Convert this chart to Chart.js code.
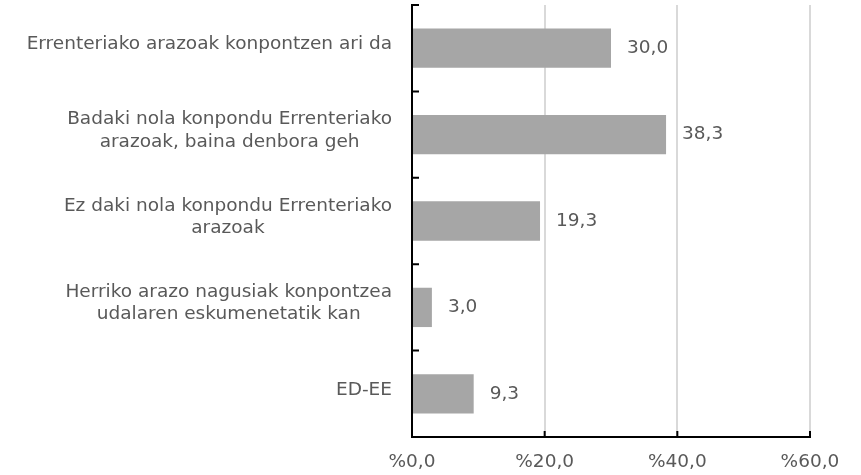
<!DOCTYPE html>
<html>
<head>
<meta charset="utf-8">
<script src="https://cdn.jsdelivr.net/npm/chart.js@4.4.0/dist/chart.umd.min.js"></script>
<style>
  html, body { margin: 0; padding: 0; background: #fff; }
  #wrap { width: 861px; height: 475px; position: relative; }
</style>
</head>
<body>
<div id="wrap"><canvas id="chart"></canvas></div>
<script>
const categories = [
  ['Errenteriako arazoak konpontzen ari da'],
  ['Badaki nola konpondu Errenteriako', 'arazoak, baina denbora geh'],
  ['Ez daki nola konpondu Errenteriako', 'arazoak'],
  ['Herriko arazo nagusiak konpontzea', 'udalaren eskumenetatik kan'],
  ['ED-EE']
];
const values = [30.0, 38.3, 19.3, 3.0, 9.3];
const xTicks = [0, 20, 40, 60];

const FONT = "'DejaVu Sans', Verdana, sans-serif";
const FONT_SIZE = 18.5;
const TEXT = '#595959';

function fmt(v) {
  return v.toFixed(1).replace('.', ',');
}

// inward tick marks, category labels and value labels
const decor = {
  id: 'decor',
  afterDraw(chart) {
    const { ctx, scales: { x, y } } = chart;
    ctx.save();

    ctx.strokeStyle = '#000';
    ctx.lineWidth = 2;
    ctx.beginPath();
    xTicks.forEach(v => {
      const px = x.getPixelForValue(v);
      ctx.moveTo(px, x.top);
      ctx.lineTo(px, x.top - 6);
    });
    for (let i = 0; i <= categories.length; i++) {
      const py = y.getPixelForValue(i - 0.5);
      ctx.moveTo(y.right, py);
      ctx.lineTo(y.right + 7, py);
    }
    ctx.stroke();

    ctx.font = FONT_SIZE + 'px ' + FONT;
    ctx.fillStyle = TEXT;
    ctx.textBaseline = 'middle';

    const lineH = 22.5;
    categories.forEach((lines, i) => {
      const cy = y.getPixelForValue(i) - 4;
      const maxW = Math.max(...lines.map(l => ctx.measureText(l).width));
      const cx = y.right - 20 - maxW / 2;
      ctx.textAlign = 'center';
      lines.forEach((l, j) => {
        ctx.fillText(l, cx, cy + (j - (lines.length - 1) / 2) * lineH);
      });
    });

    ctx.textAlign = 'left';
    values.forEach((v, i) => {
      ctx.fillText(fmt(v), x.getPixelForValue(v) + 16, y.getPixelForValue(i));
    });

    ctx.restore();
  }
};

new Chart(document.getElementById('chart'), {
  type: 'bar',
  data: {
    labels: categories,
    datasets: [{
      data: values,
      backgroundColor: '#a6a6a6',
      borderWidth: 0,
      categoryPercentage: 1,
      barPercentage: 0.455
    }]
  },
  options: {
    indexAxis: 'y',
    responsive: true,
    maintainAspectRatio: false,
    animation: false,
    layout: { padding: { top: 5, right: 51, left: 0, bottom: 0 } },
    plugins: {
      legend: { display: false },
      tooltip: { enabled: false }
    },
    scales: {
      x: {
        min: 0,
        max: 60,
        afterFit(scale) { scale.height = 38; },
        afterBuildTicks(scale) { scale.ticks = xTicks.map(v => ({ value: v })); },
        ticks: {
          padding: 14,
          color: TEXT,
          font: { family: FONT, size: FONT_SIZE },
          maxRotation: 0,
          callback: v => '%' + fmt(v)
        },
        grid: {
          drawTicks: false,
          lineWidth: 2,
          color: c => (c.tick && c.tick.value === 0 ? 'rgba(0,0,0,0)' : '#d9d9d9')
        },
        border: { display: true, color: '#000', width: 2 }
      },
      y: {
        afterFit(scale) { scale.width = 412; },
        ticks: { display: false },
        grid: { display: false },
        border: { display: true, color: '#000', width: 2 }
      }
    }
  },
  plugins: [decor]
});
</script>
</body>
</html>
